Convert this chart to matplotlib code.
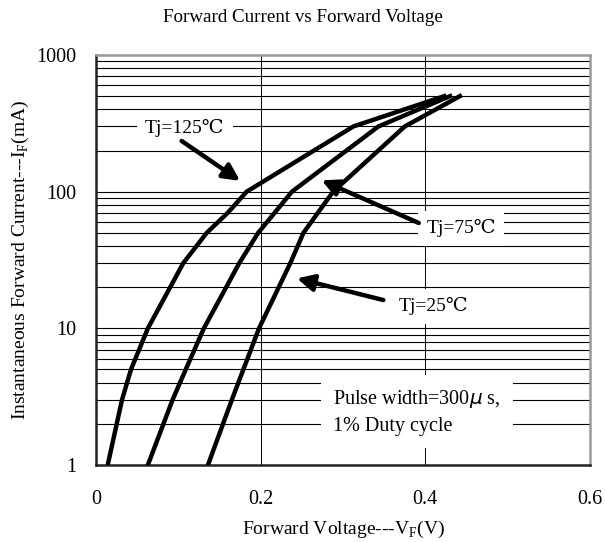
import matplotlib
matplotlib.use("Agg")
import matplotlib.pyplot as plt
import numpy as np

plt.rcParams['font.family'] = ['Liberation Serif', 'DejaVu Serif', 'Noto Sans CJK SC']
plt.rcParams['mathtext.fontset'] = 'custom'
plt.rcParams['mathtext.rm'] = 'Liberation Serif'

# Data
current_ma = [1, 3, 5, 10, 30, 50, 70, 100, 300, 500]
v_125 = [0.0142, 0.0316, 0.0425, 0.063, 0.106, 0.1345, 0.160, 0.183, 0.3126, 0.423]
current_75 = [1, 3, 5, 10, 30, 50, 100, 300, 500]
v_75 = [0.063, 0.093, 0.109, 0.131, 0.174, 0.197, 0.238, 0.343, 0.430]
current_25 = [1, 3, 5, 10, 30, 50, 100, 300, 500]
v_25 = [0.136, 0.165, 0.179, 0.198, 0.236, 0.252, 0.288, 0.375, 0.442]

x_ticks = [0, 0.2, 0.4, 0.6]
x_tick_labels = ['0', '0.2', '0.4', '0.6']
y_ticks = [1, 10, 100, 1000]
y_tick_labels = ['1', '10', '100', '1000']

fig = plt.figure(figsize=(6.05, 5.42), dpi=100)
ax = fig.add_axes([96/605, 1-465/542, (590-96)/605, (465-55)/542])
ax.set_xlim(0, 0.6)
ax.set_yscale('log')
ax.set_ylim(1, 1000)

# grid: horizontal at every minor/major, vertical at majors
for dec in [1, 10, 100]:
    for m in range(1, 10):
        v = dec * m
        if v > 1:
            ax.axhline(v, color='black', lw=0.8, zorder=1)
ax.axhline(1000, color='black', lw=0.8, zorder=1)
for xv in [0.2, 0.4]:
    ax.axvline(xv, color='black', lw=0.7, zorder=1)

for v, c in [(v_125, current_ma), (v_75, current_75), (v_25, current_25)]:
    ax.plot(v, c, color='black', lw=3.2, solid_joinstyle='miter', zorder=4)

ax.set_xticks(x_ticks)
ax.set_xticklabels(x_tick_labels)
ax.set_yticks(y_ticks)
ax.set_yticklabels(y_tick_labels)
ax.minorticks_off()
ax.tick_params(axis='both', labelsize=14.5, length=0, color='black')
ax.tick_params(axis='x', pad=18)
ax.tick_params(axis='y', pad=14)

for s in ['left', 'bottom']:
    ax.spines[s].set_linewidth(1.8)
    ax.spines[s].set_color('#222222')
for s in ['top', 'right']:
    ax.spines[s].set_linewidth(1.8)
    ax.spines[s].set_color('#9a9a9a')

arrow = dict(arrowstyle='-|>,head_length=1.0,head_width=0.5', lw=3.2, color='black', shrinkA=0, shrinkB=0)
lbl = dict(facecolor='white', edgecolor='none', pad=6)

ax.text(0.108, 292, 'Tj=125℃', fontsize=14, ha='center', va='center', bbox=lbl, zorder=3)
ax.annotate('', xy=(0.175, 120), xytext=(0.104, 235), arrowprops=arrow, zorder=5)

ax.text(0.4435, 54, 'Tj=75℃', fontsize=14, ha='center', va='center', bbox=lbl, zorder=3)
ax.annotate('', xy=(0.274, 121), xytext=(0.392, 59), arrowprops=arrow, zorder=5)

ax.text(0.410, 14.5, 'Tj=25℃', fontsize=14, ha='center', va='center', bbox=lbl, zorder=3)
ax.annotate('', xy=(0.244, 23.2), xytext=(0.349, 16.1), arrowprops=arrow, zorder=5)

ax.text(0.288, 2.44, 'Pulse width=300$\\mu$ s,\n1% Duty cycle', fontsize=14.5, ha='left', va='center',
        linespacing=1.45, bbox=dict(facecolor='white', edgecolor='none', pad=9), zorder=3)

fig.text(0.5, 1 - 18/542, 'Forward Current vs Forward Voltage', fontsize=13.7, ha='center', va='center')
ax.set_xlabel('Forward Voltage---V$_{\\mathregular{F}}$(V)', fontsize=14, labelpad=7)
ax.set_ylabel('Instantaneous Forward Current---I$_{\\mathregular{F}}$(mA)', fontsize=14, labelpad=4)

fig.savefig('out.png', dpi=100, facecolor='white')
